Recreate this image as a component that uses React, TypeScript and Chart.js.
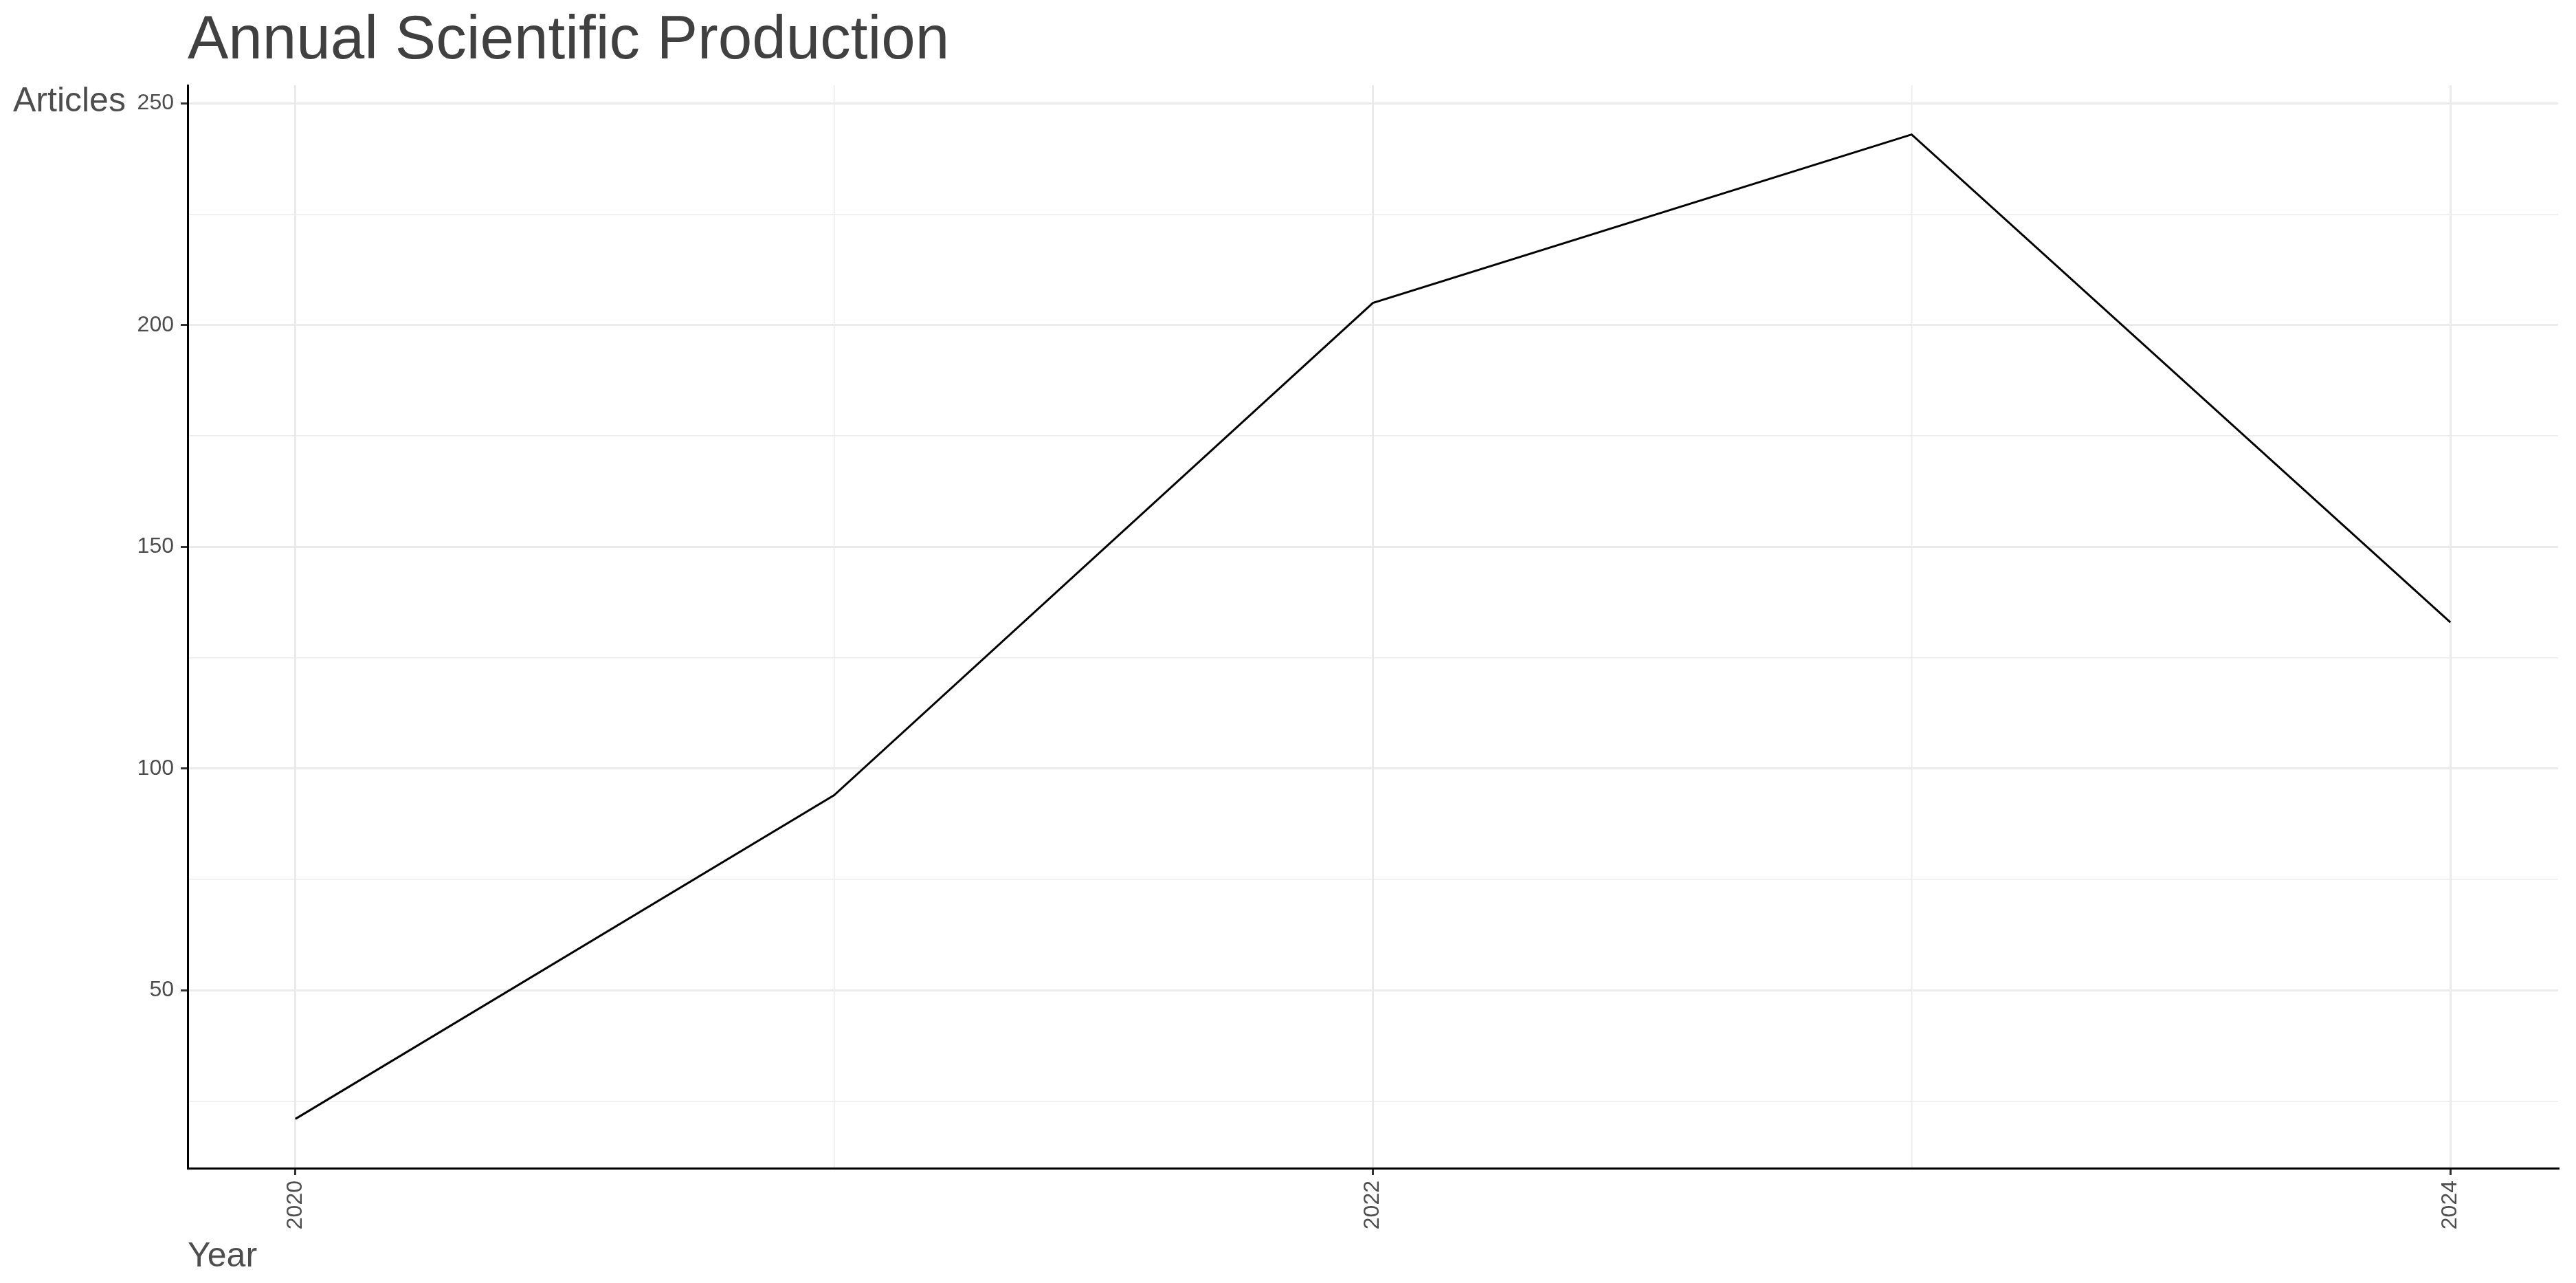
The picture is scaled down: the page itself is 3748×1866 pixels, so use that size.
import React, { useEffect, useRef } from 'react';
import { Chart, registerables } from 'chart.js';

Chart.register(...registerables);

// ---- data ----
const years = [2020, 2021, 2022, 2023, 2024];
const articles = [21, 94, 205, 243, 133];
const xTickYears = [2020, 2022, 2024];
const yTickValues = [50, 100, 150, 200, 250];
const titleText = 'Annual Scientific Production';
const xAxisTitle = 'Year';
const yAxisTitle = 'Articles';

const W = 3748;
const H = 1866;
const FONT = "'Liberation Sans', Arial, Helvetica, sans-serif";

export default function App() {
  const ref = useRef<HTMLCanvasElement>(null);

  useEffect(() => {
    document.body.style.margin = '0';
    const yLo = Math.min(...articles);
    const yHi = Math.max(...articles);
    const yPad = (yHi - yLo) * 0.05;
    const xLo = years[0];
    const xHi = years[years.length - 1];
    const xPad = (xHi - xLo) * 0.05;

    const isMajorX = (v: any) => xTickYears.includes(v);
    const isMajorY = (v: any) => yTickValues.includes(v);

    // ggplot-like texts: title aligned to panel, horizontal y title, left-aligned x title
    const textPlugin = {
      id: 'ggTexts',
      afterDraw(chart: any) {
        const { ctx, chartArea } = chart;
        ctx.save();
        ctx.textAlign = 'left';
        ctx.textBaseline = 'alphabetic';
        // title
        ctx.font = `89px ${FONT}`;
        ctx.fillStyle = '#404040';
        ctx.fillText(titleText, chartArea.left, chartArea.top - 39);
        // y axis title
        ctx.font = `50px ${FONT}`;
        ctx.fillStyle = '#4d4d4d';
        ctx.fillText(yAxisTitle, 19, chartArea.top + 38);
        // x axis title
        ctx.fillText(xAxisTitle, chartArea.left, chartArea.bottom + 143);
        ctx.restore();
      },
    };

    const chart = new Chart(ref.current as HTMLCanvasElement, {
      type: 'line',
      data: {
        datasets: [
          {
            data: years.map((y, i) => ({ x: y, y: articles[i] })),
            borderColor: '#000000',
            borderWidth: 3,
            pointRadius: 0,
            pointHoverRadius: 0,
            fill: false,
            tension: 0,
          },
        ],
      },
      options: {
        responsive: false,
        animation: false,
        devicePixelRatio: 1,
        layout: { padding: { left: 0, right: 26, top: 124, bottom: 71 } },
        plugins: {
          legend: { display: false },
          tooltip: { enabled: false },
          title: { display: false },
          subtitle: { display: false },
        },
        scales: {
          x: {
            type: 'linear',
            min: xLo - xPad,
            max: xHi + xPad,
            afterFit: (s: any) => {
              s.height = 96;
            },
            ticks: {
              stepSize: 1,
              includeBounds: false,
              autoSkip: false,
              minRotation: 90,
              maxRotation: 90,
              padding: 8,
              color: '#4d4d4d',
              font: { family: FONT, size: 32 },
              callback: (v: any) => (isMajorX(v) ? String(v) : ''),
            },
            grid: {
              color: '#ebebeb',
              lineWidth: (c: any) => (isMajorX(c.tick?.value) ? 3 : 1.5),
              tickColor: (c: any) => (isMajorX(c.tick?.value) ? '#333333' : 'rgba(0,0,0,0)'),
              tickLength: 10,
              tickWidth: 3,
            },
            border: { color: '#000000', width: 3 },
          },
          y: {
            type: 'linear',
            min: yLo - yPad,
            max: yHi + yPad,
            afterFit: (s: any) => {
              s.width = 273;
            },
            ticks: {
              stepSize: 25,
              includeBounds: false,
              autoSkip: false,
              padding: 10,
              color: '#4d4d4d',
              font: { family: FONT, size: 32 },
              callback: (v: any) => (isMajorY(v) ? String(v) : ''),
            },
            grid: {
              color: '#ebebeb',
              lineWidth: (c: any) => (isMajorY(c.tick?.value) ? 3 : 1.5),
              tickColor: (c: any) => (isMajorY(c.tick?.value) ? '#333333' : 'rgba(0,0,0,0)'),
              tickLength: 10,
              tickWidth: 3,
            },
            border: { color: '#000000', width: 3 },
          },
        },
      },
      plugins: [textPlugin],
    } as any);

    return () => chart.destroy();
  }, []);

  return (
    <div style={{ width: W, height: H }}>
      <canvas ref={ref} width={W} height={H} style={{ display: 'block' }} />
    </div>
  );
}
